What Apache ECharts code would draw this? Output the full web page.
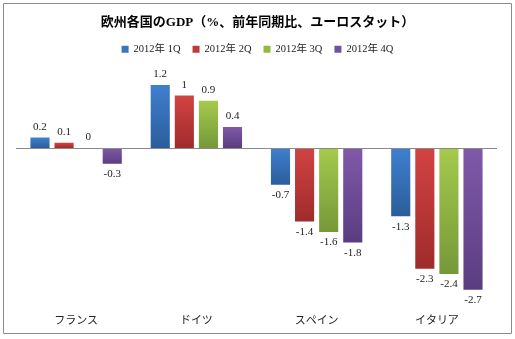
<!DOCTYPE html>
<html><head><meta charset="utf-8">
<script src="https://cdn.jsdelivr.net/npm/echarts@6/dist/echarts.min.js"></script>
<style>html,body{margin:0;padding:0;background:#fff}#c{width:515px;height:339px}</style>
</head><body><div id="c"></div>
<script>
const categories = ['フランス', 'ドイツ', 'スペイン', 'イタリア'];
const seriesNames = ['2012年 1Q', '2012年 2Q', '2012年 3Q', '2012年 4Q'];
const q1 = [0.2, 1.2, -0.7, -1.3];
const q2 = [0.1, 1, -1.4, -2.3];
const q3 = [0, 0.9, -1.6, -2.4];
const q4 = [-0.3, 0.4, -1.8, -2.7];
const values = [q1, q2, q3, q4];
const colorTop = ['#3f80cf', '#d24343', '#a5ca4c', '#8059a9'];
const colorBottom = ['#2b5d9b', '#9f2b2b', '#76983a', '#5a3d80'];
const legendColors = ['#3a76c0', '#c03838', '#92bb3e', '#7050a0'];

const chart = echarts.init(document.getElementById('c'));
const serif = '"Liberation Serif", "Noto Sans CJK JP", serif';
const series = values.map((arr, i) => ({
  name: seriesNames[i],
  type: 'bar',
  barGap: '26%',
  barCategoryGap: '24%',
  itemStyle: {
    color: new echarts.graphic.LinearGradient(0, 0, 0, 1, [
      {offset: 0, color: colorTop[i]}, {offset: 1, color: colorBottom[i]}
    ])
  },
  data: arr.map(v => ({
    value: v,
    label: {show: true, position: v >= 0 ? 'top' : 'bottom', distance: 5,
      fontFamily: serif, fontSize: 11, color: '#222'}
  })),
  markLine: i === 0 ? {
    silent: true, symbol: 'none', label: {show: false},
    lineStyle: {color: '#8a8a8a', width: 1, type: 'solid'},
    data: [{yAxis: 0}]
  } : undefined
}));

chart.setOption({
  animation: false,
  color: legendColors,
  title: {
    text: '欧州各国のGDP（%、前年同期比、ユーロスタット）',
    left: 'center', top: 11,
    textStyle: {fontFamily: serif, fontSize: 13, fontWeight: 'bold', color: '#000'}
  },
  legend: {
    top: 39, left: 'center', itemWidth: 7, itemHeight: 7, itemGap: 12,
    icon: 'rect',
    textStyle: {fontFamily: serif, fontSize: 10.5, color: '#222'},
    data: seriesNames.map((n, i) => ({name: n, itemStyle: {color: legendColors[i]}}))
  },
  grid: {left: 16, right: 18, top: 69.25, bottom: 33.5, containLabel: false},
  xAxis: {
    type: 'category', data: categories,
    axisLine: {show: false}, axisTick: {show: false},
    axisLabel: {fontFamily: '"Noto Sans CJK JP", sans-serif', fontSize: 11, color: '#222', margin: 9}
  },
  yAxis: {
    type: 'value', min: -3, max: 1.5, interval: 0.5,
    show: false, splitLine: {show: false}
  },
  graphic: [{
    type: 'rect', shape: {x: 3.5, y: 3.5, width: 508, height: 330},
    style: {fill: 'none', stroke: '#8c8c8c', lineWidth: 1}, z: 100, silent: true
  }],
  series: series
});
</script></body></html>
